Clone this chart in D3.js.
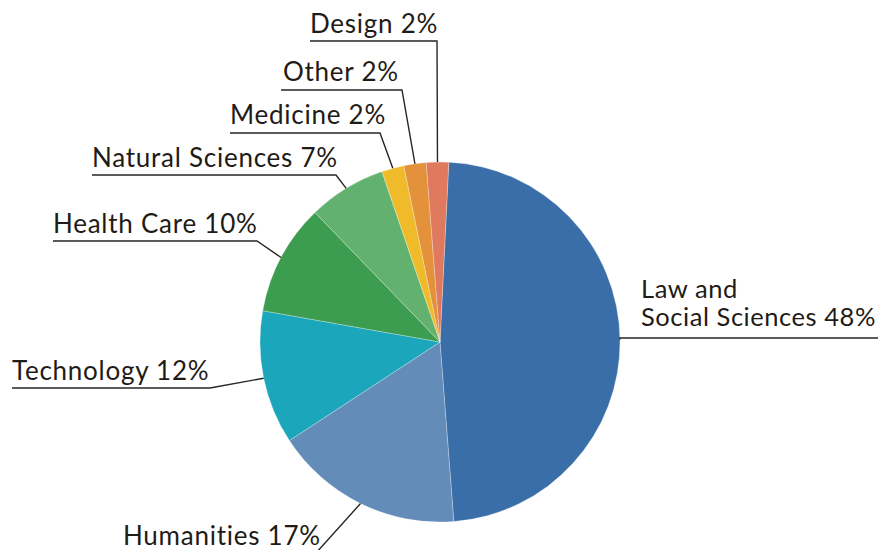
<!DOCTYPE html>
<html>
<head>
<meta charset="utf-8">
<script src="https://cdn.jsdelivr.net/npm/d3@7"></script>
<style>
  html, body { margin: 0; padding: 0; background: #ffffff; }
  svg { display: block; }
  text { font-family: Lato, "Open Sans", sans-serif; fill: #1f1b16; }
</style>
</head>
<body>
<svg id="chart" width="879" height="550"></svg>
<script>
// ---- data ----
const categories = ["Law and Social Sciences", "Humanities", "Technology", "Health Care",
                    "Natural Sciences", "Medicine", "Other", "Design"];
const values = [48, 17, 12, 10, 7, 2, 2, 2];
const labelLines = [["Law and", "Social Sciences 48%"], ["Humanities 17%"], ["Technology 12%"],
                    ["Health Care 10%"], ["Natural Sciences 7%"], ["Medicine 2%"], ["Other 2%"], ["Design 2%"]];
const colors = ["#3a6ea8", "#638cb9", "#1ba6bb", "#3c9c50", "#63b16f", "#efbb2a", "#e3913a", "#e07a5e"];

// ---- layout (label placement) ----
const cx = 440, cy = 342, radius = 180;
const startOffset = 2.8 * Math.PI / 180;
// text x, first baseline y, underline y, underline x0, x1 (elbow), anchor side
const labelPos = [
  {tx: 641, ty: 298, ly: 338, x0: 620, x1: 878, side: "right", fs: 25.5, ls: 0.55},
  {tx: 123, ty: 545, ly: 553, x0: 123, x1: 316, side: "left", fs: 26, ls: 0.75},
  {tx: 12,  ty: 380, ly: 388, x0: 12,  x1: 210, side: "left", fs: 26, ls: 0.75},
  {tx: 53,  ty: 233, ly: 241, x0: 53,  x1: 257, side: "left", fs: 26, ls: 0.75},
  {tx: 92,  ty: 167, ly: 175, x0: 92,  x1: 336, side: "left", fs: 26, ls: 0.75},
  {tx: 230, ty: 124, ly: 133, x0: 230, x1: 380, side: "left", fs: 26, ls: 0.75},
  {tx: 283, ty: 81,  ly: 90,  x0: 281, x1: 402, side: "left", fs: 26, ls: 0.75},
  {tx: 310, ty: 33,  ly: 41,  x0: 310, x1: 437, side: "left", fs: 26, ls: 0.75}
];

const svg = d3.select("#chart");
const g = svg.append("g").attr("transform", `translate(${cx},${cy})`);

const pie = d3.pie().sort(null).value(d => d)
  .startAngle(startOffset).endAngle(startOffset + 2 * Math.PI);
const arcs = pie(values);
const arc = d3.arc().innerRadius(0).outerRadius(radius);

g.selectAll("path.slice").data(arcs).enter().append("path")
  .attr("class", "slice")
  .attr("d", arc)
  .attr("fill", (d, i) => colors[i])
  .attr("stroke", "rgba(255,255,255,0.45)")
  .attr("stroke-width", 0.6);

// leader lines
const lineColor = "#2a2520";
arcs.forEach((a, i) => {
  const mid = (a.startAngle + a.endAngle) / 2;
  const px = cx + radius * Math.sin(mid);
  const py = cy - radius * Math.cos(mid);
  const p = labelPos[i];
  const elbowX = p.side === "right" ? p.x0 : p.x1;
  const pts = p.side === "right"
    ? [[px, py], [p.x0, p.ly], [p.x1, p.ly]]
    : [[px, py], [elbowX, p.ly], [p.x0, p.ly]];
  svg.append("path")
    .attr("d", d3.line()(pts))
    .attr("fill", "none")
    .attr("stroke", lineColor)
    .attr("stroke-width", 1.4);

  const t = svg.append("text")
    .attr("x", p.tx).attr("y", p.ty)
    .attr("font-size", p.fs)
    .attr("letter-spacing", p.ls);
  labelLines[i].forEach((ln, k) => {
    t.append("tspan").attr("x", p.tx).attr("dy", k === 0 ? 0 : 27.5).text(ln);
  });
});
</script>
</body>
</html>
